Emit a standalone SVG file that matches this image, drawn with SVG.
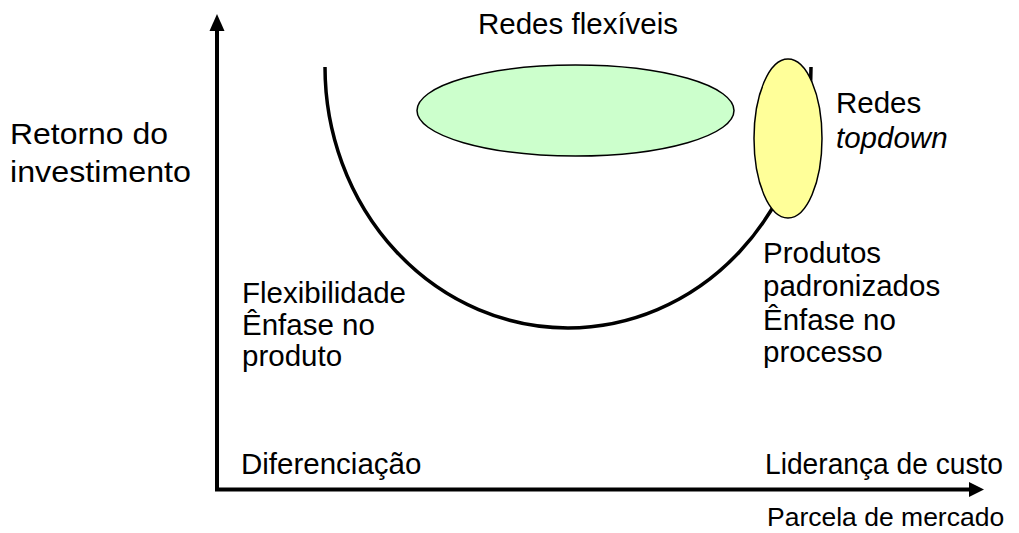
<svg xmlns="http://www.w3.org/2000/svg" width="1019" height="533" viewBox="0 0 1019 533">
<style>
text{font-family:"Liberation Sans",Arial,sans-serif;font-size:29.5px;fill:#000}
text.sm{font-size:26.5px}
.ax{stroke:#000;stroke-width:4;fill:none}
.sh{stroke:#000;stroke-width:1.5}
</style>
<rect width="1019" height="533" fill="#fff"/>
<g id="connectors">
<path class="ax" d="M217 30 V489.5 H970"/>
<polygon points="217,14 209.5,31 224.5,31" fill="#000"/>
<polygon points="984,489.5 969,482 969,497" fill="#000"/>
<path d="M325 67 A243 261 0 0 0 811 67" fill="none" stroke="#000" stroke-width="3.5"/>
</g>
<g id="green"><ellipse class="sh" cx="575.5" cy="110.5" rx="158.5" ry="45.5" fill="#ccffcc"/></g>
<g id="yellow"><ellipse class="sh" cx="788" cy="138.5" rx="34" ry="79.5" fill="#ffff99"/></g>
<g id="labels">
<text x="478" y="34">Redes flexíveis</text>
<text x="10" y="144" textLength="158" lengthAdjust="spacingAndGlyphs">Retorno do</text>
<text x="10" y="182" textLength="181" lengthAdjust="spacingAndGlyphs">investimento</text>
<text x="836" y="113">Redes</text>
<text x="836" y="148" font-style="italic">topdown</text>
<text x="242" y="303">Flexibilidade</text>
<text x="242" y="335">Ênfase no</text>
<text x="242" y="366">produto</text>
<text x="763" y="263">Produtos</text>
<text x="763" y="296">padronizados</text>
<text x="763" y="330">Ênfase no</text>
<text x="763" y="362">processo</text>
<text x="241" y="474">Diferenciação</text>
<text x="765" y="474" textLength="238" lengthAdjust="spacingAndGlyphs">Liderança de custo</text>
<text class="sm" x="767" y="526">Parcela de mercado</text>
</g>
</svg>
